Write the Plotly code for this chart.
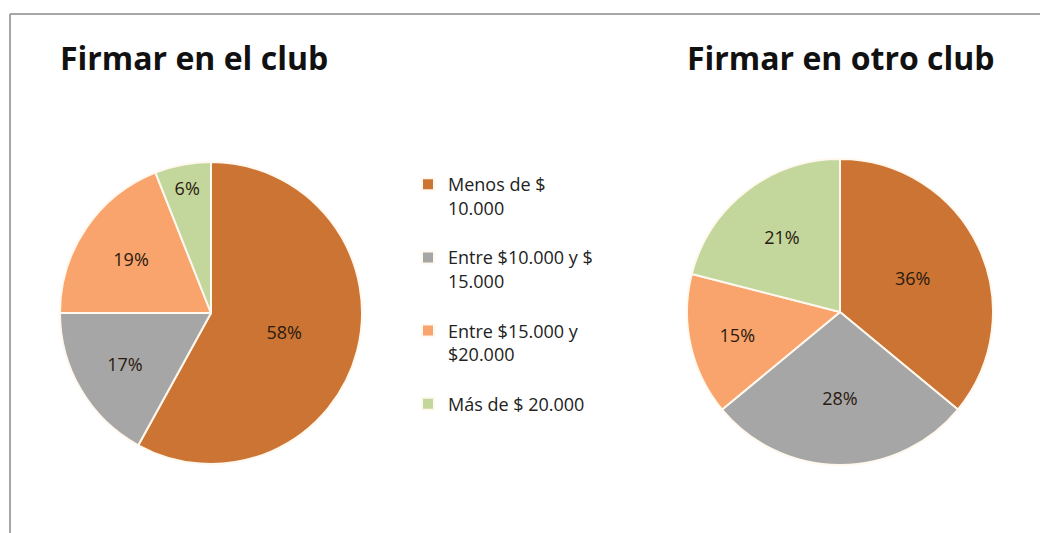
import plotly.graph_objects as go

categories = ["Menos de $<br>10.000<br>\u00a0",
              "Entre $10.000 y $<br>15.000<br>\u00a0",
              "Entre $15.000 y<br>$20.000<br>\u00a0",
              "Más de $ 20.000"]
club_values = [58, 17, 19, 6]
otro_values = [36, 28, 15, 21]
titles = ["Firmar en el club", "Firmar en otro club"]
colors = ["#CB7433", "#A6A6A6", "#F8A46C", "#C3D69B"]

W, H = 1040, 533
FONT = "Open Sans"

def px_x(v):
    return v / W

def px_y(v):
    return 1 - v / H

common = dict(
    sort=False,
    direction="clockwise",
    rotation=0,
    marker=dict(colors=colors, line=dict(color="#FFF8EE", width=2)),
    texttemplate="%{value}%",
    textposition="inside",
    insidetextorientation="horizontal",
    textfont=dict(family=FONT, size=18, color="#2a1a10"),
    hoverinfo="label+percent",
)

fig = go.Figure()
fig.add_trace(go.Pie(labels=categories, values=club_values, name=titles[0],
                     domain=dict(x=[px_x(60), px_x(362)], y=[px_y(464), px_y(162)]),
                     showlegend=True, **common))
fig.add_trace(go.Pie(labels=categories, values=otro_values, name=titles[1],
                     domain=dict(x=[px_x(687), px_x(993)], y=[px_y(466), px_y(158)]),
                     showlegend=False, **common))

fig.add_annotation(text="<b>" + titles[0] + "</b>", x=px_x(58), y=px_y(57), xref="paper", yref="paper",
                   xanchor="left", yanchor="middle", showarrow=False,
                   font=dict(family=FONT, size=32, color="#111111"))
fig.add_annotation(text="<b>" + titles[1] + "</b>", x=px_x(685), y=px_y(57), xref="paper", yref="paper",
                   xanchor="left", yanchor="middle", showarrow=False,
                   font=dict(family=FONT, size=32, color="#111111"))

# chart-area border (left and top edges visible)
fig.add_shape(type="line", xref="paper", yref="paper", x0=px_x(10), x1=px_x(10), y0=0, y1=px_y(14),
              line=dict(color="#8a8a8a", width=1.5))
fig.add_shape(type="line", xref="paper", yref="paper", x0=px_x(10), x1=1, y0=px_y(14), y1=px_y(14),
              line=dict(color="#8a8a8a", width=1.5))

fig.update_layout(
    width=W, height=H,
    margin=dict(l=0, r=0, t=0, b=0),
    paper_bgcolor="white",
    plot_bgcolor="white",
    legend=dict(x=px_x(408), y=px_y(166), xanchor="left", yanchor="top",
                valign="top", traceorder="normal",
                font=dict(family=FONT, size=18, color="#222222"),
                bgcolor="rgba(0,0,0,0)"),
)

fig.write_html("out.html", config={"displayModeBar": False},
               post_script="document.body.style.margin='0';document.body.style.overflow='hidden';")
